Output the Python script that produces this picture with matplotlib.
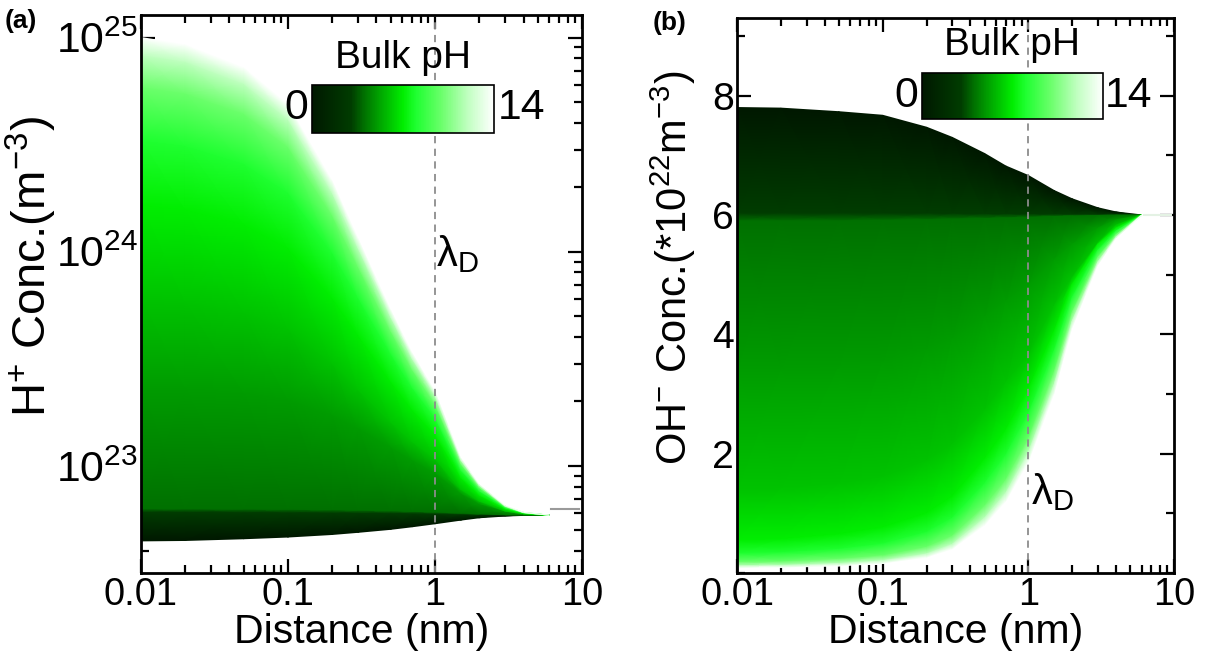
import numpy as np
import matplotlib
matplotlib.use("Agg")
import matplotlib.pyplot as plt
from matplotlib import font_manager
from matplotlib.colors import LinearSegmentedColormap, Normalize
from matplotlib.cm import ScalarMappable
from matplotlib.ticker import MultipleLocator, NullFormatter, LogLocator

# tick digits in the original are narrow; use a narrow face if there is one
installed = {f.name for f in font_manager.fontManager.ttflist}
narrow = "Liberation Sans Narrow" if "Liberation Sans Narrow" in installed else "Liberation Sans"
shrink = 1.0 if narrow == "Liberation Sans Narrow" else 0.88

plt.rcParams["font.family"] = ["Liberation Sans", "DejaVu Sans"]
plt.rcParams["mathtext.fontset"] = "custom"
plt.rcParams["mathtext.rm"] = "Liberation Sans"
plt.rcParams["mathtext.it"] = "Liberation Sans:italic"
plt.rcParams["mathtext.bf"] = "Liberation Sans:bold"
plt.rcParams["mathtext.sf"] = narrow

# distance from surface (nm)
distance = [0.01, 0.02, 0.05, 0.1, 0.2, 0.3, 0.5, 0.7, 1, 1.5, 2, 3, 4, 6]
ph_levels = [0, 3, 4, 5, 6, 7, 8, 10, 12, 14]

# (a) H+ concentration, read as log10 of m^-3, one row per bulk pH
h_ph0 = [22.65, 22.652, 22.66, 22.668, 22.68, 22.69, 22.704, 22.716, 22.73, 22.747, 22.758, 22.766, 22.769, 22.77]
h_ph3 = [22.785, 22.785, 22.784, 22.783, 22.782, 22.781, 22.78, 22.779, 22.777, 22.775, 22.773, 22.771, 22.77, 22.77]
h_ph4 = [22.80, 22.80, 22.799, 22.798, 22.796, 22.794, 22.791, 22.788, 22.785, 22.78, 22.776, 22.772, 22.771, 22.77]
h_ph5 = [23.37, 23.364, 23.343, 23.31, 23.238, 23.178, 23.088, 23.028, 22.968, 22.872, 22.824, 22.788, 22.776, 22.77]
h_ph6 = [23.78, 23.765, 23.716, 23.639, 23.477, 23.356, 23.204, 23.113, 23.033, 22.891, 22.836, 22.79, 22.776, 22.77]
h_ph7 = [24.22, 24.198, 24.129, 24.017, 23.785, 23.611, 23.394, 23.263, 23.147, 22.944, 22.864, 22.799, 22.779, 22.77]
h_ph8 = [24.52, 24.494, 24.41, 24.275, 23.995, 23.785, 23.523, 23.365, 23.225, 22.98, 22.884, 22.805, 22.781, 22.77]
h_ph10 = [24.77, 24.74, 24.644, 24.49, 24.17, 23.93, 23.63, 23.45, 23.29, 23.01, 22.90, 22.81, 22.782, 22.77]
h_ph12 = [24.92, 24.888, 24.785, 24.619, 24.275, 24.017, 23.695, 23.501, 23.329, 23.028, 22.91, 22.813, 22.783, 22.77]
h_ph14 = [25.0, 24.967, 24.86, 24.688, 24.331, 24.063, 23.729, 23.528, 23.35, 23.038, 22.915, 22.815, 22.783, 22.77]

# (b) OH- concentration in units of 1e22 m^-3
oh_ph0 = [7.80, 7.79, 7.73, 7.67, 7.47, 7.30, 7.03, 6.82, 6.66, 6.41, 6.27, 6.12, 6.05, 6.0]
oh_ph3 = [6.03, 6.03, 6.03, 6.028, 6.025, 6.023, 6.018, 6.015, 6.012, 6.008, 6.005, 6.002, 6.001, 6.0]
oh_ph4 = [5.90, 5.90, 5.90, 5.91, 5.92, 5.93, 5.94, 5.95, 5.96, 5.975, 5.983, 5.992, 5.997, 6.0]
oh_ph5 = [3.39, 3.41, 3.46, 3.53, 3.74, 3.93, 4.29, 4.56, 4.83, 5.25, 5.51, 5.78, 5.92, 6.0]
oh_ph6 = [1.39, 1.42, 1.50, 1.61, 1.89, 2.16, 2.73, 3.20, 3.65, 4.48, 4.96, 5.54, 5.83, 6.0]
oh_ph7 = [0.55, 0.568, 0.65, 0.765, 1.00, 1.28, 1.91, 2.40, 3.08, 4.05, 4.84, 5.51, 5.78, 6.0]
oh_ph8 = [0.33, 0.344, 0.40, 0.49, 0.686, 0.924, 1.50, 1.98, 2.67, 3.72, 4.62, 5.41, 5.73, 6.0]
oh_ph10 = [0.18, 0.188, 0.23, 0.29, 0.434, 0.62, 1.12, 1.56, 2.25, 3.36, 4.37, 5.29, 5.67, 6.0]
oh_ph12 = [0.12, 0.127, 0.158, 0.206, 0.32, 0.48, 0.92, 1.34, 2.02, 3.15, 4.22, 5.21, 5.63, 6.0]
oh_ph14 = [0.09, 0.095, 0.12, 0.16, 0.26, 0.40, 0.80, 1.20, 1.86, 3.00, 4.11, 5.16, 5.61, 6.0]

# short bulk lines at the right end
tail_x = [6.2, 9.5]
tail_h = [22.80, 22.80]
tail_oh = [6.0, 6.0]

h_curves = [h_ph0, h_ph3, h_ph4, h_ph5, h_ph6, h_ph7, h_ph8, h_ph10, h_ph12, h_ph14]
oh_curves = [oh_ph0, oh_ph3, oh_ph4, oh_ph5, oh_ph6, oh_ph7, oh_ph8, oh_ph10, oh_ph12, oh_ph14]

cmap = LinearSegmentedColormap.from_list(
    "bulkph",
    [(0.0, "#001800"), (3 / 14, "#003c00"), (4 / 14, "#007000"), (5 / 14, "#009c00"),
     (6 / 14, "#00c400"), (7 / 14, "#00ee00"), (8 / 14, "#1eff30"),
     (10 / 14, "#6cff6c"), (12 / 14, "#c0ffc0"), (1.0, "#ffffff")])
norm = Normalize(0, 14)


def draw_bands(ax, curves):
    # each band between two neighbouring pH curves is shaded from one
    # curve colour to the next
    x = np.array(distance, dtype=float)
    for i in range(len(curves) - 1):
        X = np.vstack([x, x])
        Y = np.vstack([curves[i], curves[i + 1]])
        C = np.vstack([np.full(len(x), ph_levels[i], dtype=float),
                       np.full(len(x), ph_levels[i + 1], dtype=float)])
        ax.pcolormesh(X, Y, C, shading="gouraud", cmap=cmap, norm=norm, zorder=2)


def style_axis(ax):
    ax.set_xscale("log")
    ax.set_xlim(0.01, 10)
    ax.set_xticks([0.01, 0.1, 1, 10])
    ax.set_xticklabels(["0.01", "0.1", "1", "10"], fontfamily=narrow,
                       fontsize=31 * shrink)
    ax.xaxis.set_minor_locator(LogLocator(subs=np.arange(2, 10)))
    ax.xaxis.set_minor_formatter(NullFormatter())
    ax.tick_params(which="both", direction="in", top=True, right=True, width=1.6)
    ax.tick_params(axis="x", pad=3)
    ax.tick_params(axis="y", pad=2)
    ax.tick_params(which="major", length=10)
    ax.tick_params(which="minor", length=6)
    for s in ax.spines.values():
        s.set_linewidth(2.0)
        s.set_zorder(5)
    ax.set_xlabel("Distance (nm)", fontsize=29.5, labelpad=0)
    ax.axvline(1, color="#8c8c8c", ls=(0, (4, 3)), lw=1.3, zorder=3)


def add_colorbar(rect, lab0, lab14, title):
    cax = fig.add_axes(rect)
    cb = fig.colorbar(ScalarMappable(norm=norm, cmap=cmap),
                      cax=cax, orientation="horizontal")
    cb.set_ticks([])
    cb.outline.set_linewidth(1.2)
    fig.text(lab0[0], lab0[1], "0", fontsize=35 * shrink, fontfamily=narrow,
             ha="right", va="center")
    fig.text(lab14[0], lab14[1], "14", fontsize=35 * shrink, fontfamily=narrow,
             ha="left", va="center")
    fig.text(title[0], title[1], "Bulk pH", fontsize=28, ha="center", va="center")


fig = plt.figure(figsize=(12.11, 6.62), dpi=100)
ax_a = fig.add_axes([0.1164, 0.1344, 0.3642, 0.8429])
ax_b = fig.add_axes([0.6086, 0.1344, 0.3609, 0.8384])

# panel (a)
draw_bands(ax_a, [10 ** np.array(c) for c in h_curves])
ax_a.plot(tail_x, 10 ** np.array(tail_h), color="#9a9a9a", lw=1.5, zorder=2)
style_axis(ax_a)
ax_a.set_yscale("log")
ax_a.set_ylim(10 ** 22.5, 10 ** 25.105)
ax_a.set_yticks([1e23, 1e24, 1e25])
ax_a.set_yticklabels([r"$\mathsf{10^{23}}$", r"$\mathsf{10^{24}}$", r"$\mathsf{10^{25}}$"],
                     fontsize=35 * shrink)
ax_a.yaxis.set_minor_locator(LogLocator(subs=np.arange(2, 10)))
ax_a.yaxis.set_minor_formatter(NullFormatter())
ax_a.set_ylabel(r"H$^{+}$ Conc.(m$^{-3}$)", fontsize=34)
ax_a.yaxis.set_label_coords(-0.186, 0.55)
ax_a.text(1.02, 10 ** 23.99, "λ$_{\\mathrm{D}}$", fontsize=30, ha="left", va="center")
fig.text(0.004, 0.968, "(a)", fontsize=19, fontweight="bold", ha="left", va="center")

# panel (b)
draw_bands(ax_b, [np.array(c) for c in oh_curves])
ax_b.plot(tail_x, tail_oh, color="#e4f2e4", lw=1.5, zorder=2)
style_axis(ax_b)
ax_b.set_ylim(0, 9.3)
ax_b.set_yticks([2, 4, 6, 8])
ax_b.set_yticklabels(["2", "4", "6", "8"], fontfamily=narrow, fontsize=32 * shrink)
ax_b.yaxis.set_minor_locator(MultipleLocator(1))
ax_b.set_ylabel(r"OH$^{-}$ Conc.(*10$^{22}$m$^{-3}$)", fontsize=30)
ax_b.yaxis.set_label_coords(-0.09, 0.55)
ax_b.text(1.04, 1.35, "λ$_{\\mathrm{D}}$", fontsize=30, ha="left", va="center")
fig.text(0.539, 0.965, "(b)", fontsize=19, fontweight="bold", ha="left", va="center")

add_colorbar([0.2576, 0.7991, 0.1503, 0.0725], (0.2543, 0.8369), (0.4112, 0.8369),
             (0.3328, 0.9124))
add_colorbar([0.7614, 0.8202, 0.1495, 0.0695], (0.758, 0.855), (0.9125, 0.855),
             (0.8357, 0.932))

fig.savefig("out.png", dpi=100)
